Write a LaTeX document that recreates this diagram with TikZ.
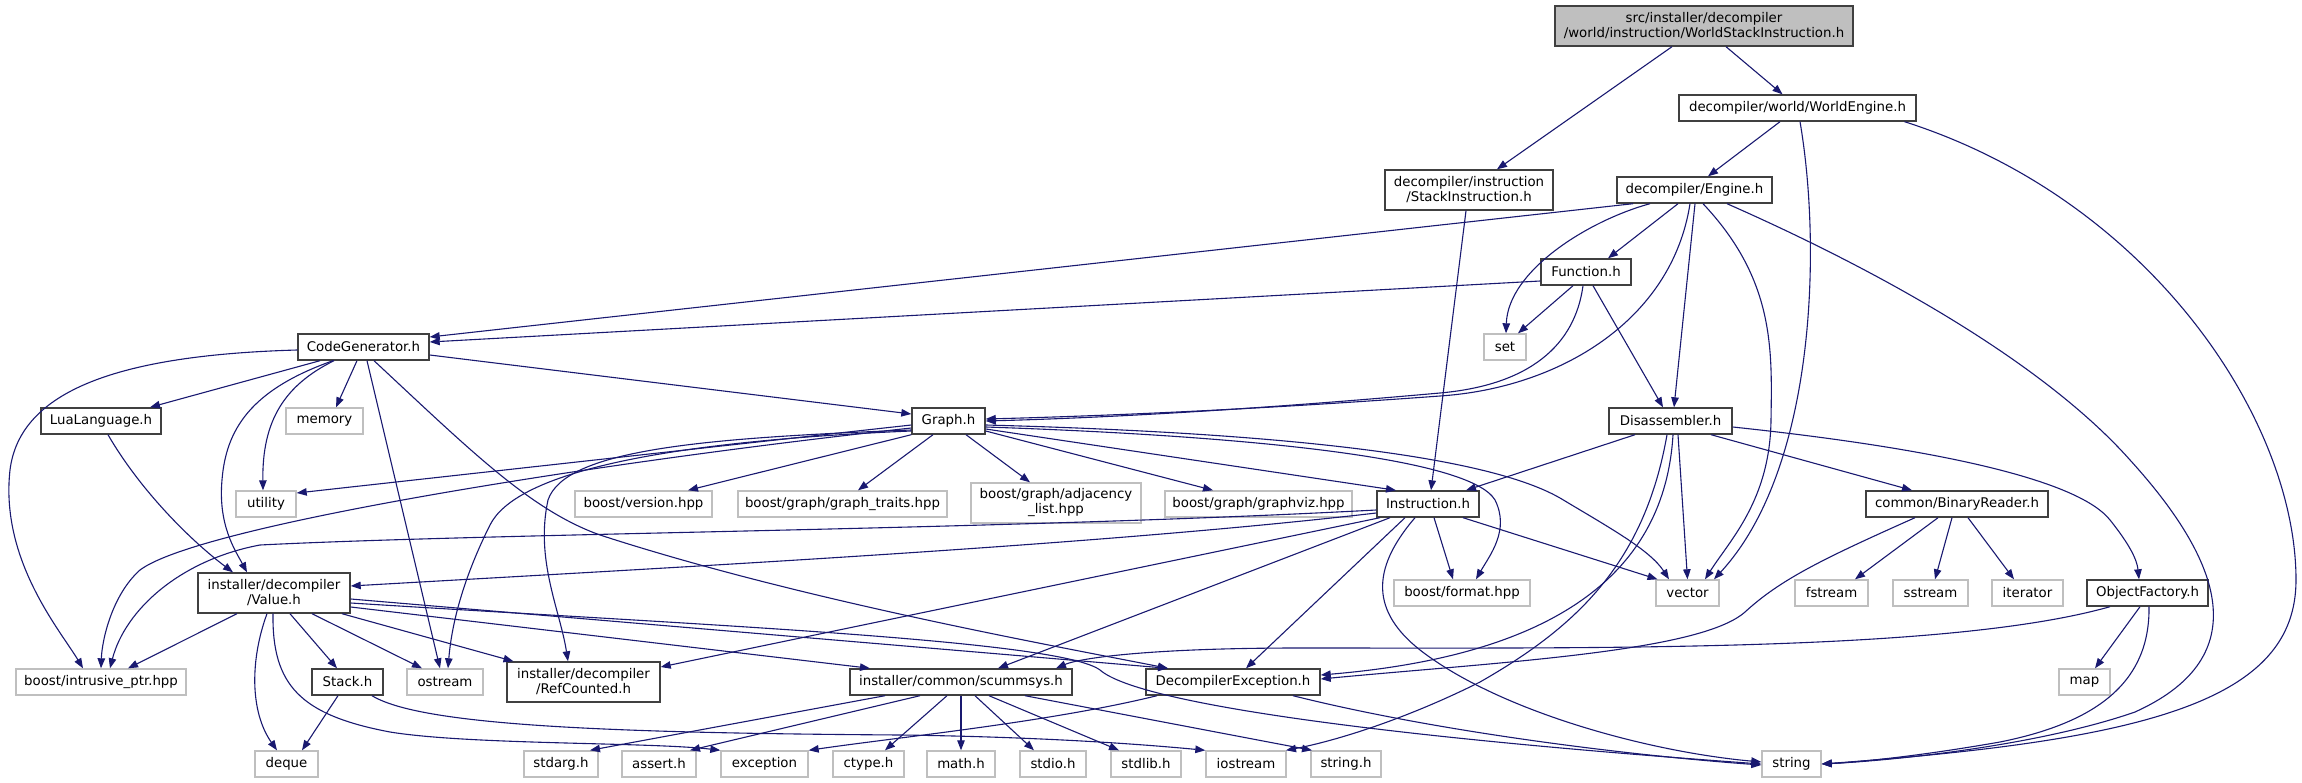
\documentclass[tikz,border=0pt]{standalone}
\usepackage{fontspec}
\setmainfont{DejaVu Sans}
\usetikzlibrary{arrows.meta}
\definecolor{edgec}{HTML}{191970}
\definecolor{docb}{HTML}{404040}
\definecolor{extb}{HTML}{BFBFBF}
\tikzset{
  nbase/.style={rectangle, inner sep=0pt, align=center, font=\fontsize{13.33}{15}\selectfont, line width=1.4pt, fill=white},
  doc/.style={nbase, draw=docb},
  ext/.style={nbase, draw=extb},
  rootn/.style={nbase, draw=docb, fill=extb},
  e/.style={draw=edgec, line width=1.1pt, -{Triangle[length=10pt,width=7.5pt]}},
}
\newcommand{\nd}[6]{\node[#1, minimum width=#4pt, minimum height=#5pt] (#2) at (#3) {#6};}
\begin{document}
\begin{tikzpicture}[x=1pt,y=-1pt]
\useasboundingbox (0,0) rectangle (2302,783);
% rank 0-4
\nd{rootn}{root}{1704,26}{298}{40}{src/installer/decompiler\\/world/instruction/WorldStackInstruction.h}
\nd{doc}{worldengine}{1797.5,108}{237}{26}{decompiler/world/WorldEngine.h}
\nd{doc}{stackinstr}{1469,190}{168}{40}{decompiler/instruction\\/StackInstruction.h}
\nd{doc}{engine}{1694.5,190}{155}{26}{decompiler/Engine.h}
\nd{doc}{function}{1586,272}{90}{26}{Function.h}
\nd{ext}{set}{1505,347}{42}{26}{set}
\nd{doc}{codegen}{363.5,347}{131}{26}{CodeGenerator.h}
% rank 5
\nd{doc}{disasm}{1670.5,421}{123}{26}{Disassembler.h}
\nd{doc}{lua}{101,421}{120}{26}{LuaLanguage.h}
\nd{ext}{memory}{324.5,421}{77}{26}{memory}
\nd{doc}{graph}{948.5,421}{73}{26}{Graph.h}
% rank 6
\nd{ext}{utility}{266,504}{60}{26}{utility}
\nd{ext}{version}{643.5,504}{137}{26}{boost/version.hpp}
\nd{ext}{traits}{842.5,504}{209}{26}{boost/graph/graph\_traits.hpp}
\nd{ext}{adjacency}{1056,503}{170}{40}{boost/graph/adjacency\\\_list.hpp}
\nd{ext}{graphviz}{1258.5,504}{187}{26}{boost/graph/graphviz.hpp}
\nd{doc}{instruction}{1428,504}{102}{26}{Instruction.h}
\nd{doc}{binreader}{1957,504}{182}{26}{common/BinaryReader.h}
% rank 7
\nd{doc}{value}{274,593}{152}{40}{installer/decompiler\\/Value.h}
\nd{ext}{format}{1462,593}{136}{26}{boost/format.hpp}
\nd{ext}{vector}{1687.5,593}{63}{26}{vector}
\nd{ext}{fstream}{1831.5,593}{73}{26}{fstream}
\nd{ext}{sstream}{1930.5,593}{75}{26}{sstream}
\nd{ext}{iterator}{2027.5,593}{71}{26}{iterator}
\nd{doc}{objfactory}{2147.5,593}{121}{26}{ObjectFactory.h}
% rank 8
\nd{ext}{intrusive}{101,682}{170}{26}{boost/intrusive\_ptr.hpp}
\nd{doc}{stack}{347.5,682}{71}{26}{Stack.h}
\nd{ext}{ostream}{445,682}{76}{26}{ostream}
\nd{doc}{refcounted}{583.5,682}{153}{40}{installer/decompiler\\/RefCounted.h}
\nd{doc}{scummsys}{961,682}{222}{26}{installer/common/scummsys.h}
\nd{doc}{decompexc}{1233,682}{174}{26}{DecompilerException.h}
\nd{ext}{map}{2084.5,682}{51}{26}{map}
% rank 9
\nd{ext}{deque}{286.5,764}{63}{26}{deque}
\nd{ext}{stdarg}{561,764}{74}{26}{stdarg.h}
\nd{ext}{assert}{659,764}{74}{26}{assert.h}
\nd{ext}{exception}{764.5,764}{87}{26}{exception}
\nd{ext}{ctype}{868.5,764}{71}{26}{ctype.h}
\nd{ext}{math}{961,764}{68}{26}{math.h}
\nd{ext}{stdio}{1053,764}{66}{26}{stdio.h}
\nd{ext}{stdlib}{1146,764}{70}{26}{stdlib.h}
\nd{ext}{iostream}{1246,764}{80}{26}{iostream}
\nd{ext}{stringh}{1346,764}{70}{26}{string.h}
\nd{ext}{string}{1791.5,764}{59}{26}{string}

% ---- edges ----
% root
\draw[e] ([xshift=-32pt]root.south) -- ([xshift=28pt]stackinstr.north);
\draw[e] ([xshift=22pt]root.south) -- ([xshift=-15pt]worldengine.north);
% WorldEngine
\draw[e] ([xshift=-17.5pt]worldengine.south) -- ([xshift=13.5pt]engine.north);
\draw[e] ([xshift=2.5pt]worldengine.south) .. controls (1822,250) and (1815,470) .. ([xshift=26.5pt]vector.north);
\draw[e] ([xshift=107pt]worldengine.south) .. controls (2150,200) and (2296,420) .. (2296,580) .. controls (2296,700) and (2150,740) .. (string.east);
% Engine
\draw[e] ([xshift=-61.5pt]engine.south) -- ([yshift=10pt]codegen.east);
\draw[e] ([xshift=-44.5pt]engine.south) .. controls (1590,220) and (1508,270) .. ([xshift=1pt]set.north);
\draw[e] ([xshift=-16.5pt]engine.south) -- ([xshift=22pt]function.north);
\draw[e] ([xshift=-4.5pt]engine.south) .. controls (1672,320) and (1560,388) .. (1440,396) .. controls (1250,410) and (1100,416) .. ([yshift=2pt]graph.east);
\draw[e] ([xshift=0.5pt]engine.south) -- ([xshift=3.5pt]disasm.north);
\draw[e] ([xshift=8.5pt]engine.south) .. controls (1775,280) and (1772,350) .. (1771,420) .. controls (1770,500) and (1730,540) .. ([xshift=17.5pt]vector.north);
\draw[e] ([xshift=32.5pt]engine.south) .. controls (1900,280) and (2050,370) .. (2130,460) .. controls (2230,570) and (2250,660) .. (2135,712) .. controls (2040,745) and (1900,760) .. (string.east);
% Function
\draw[e] ([yshift=-9pt]function.west) -- ([yshift=5pt]codegen.east);
\draw[e] ([xshift=-13pt]function.south) -- ([xshift=13pt]set.north);
\draw[e] ([xshift=-3pt]function.south) .. controls (1575,345) and (1530,385) .. (1440,393) .. controls (1250,410) and (1100,418) .. (graph.east);
\draw[e] ([xshift=7pt]function.south) -- ([xshift=-7.5pt]disasm.north);
% CodeGenerator
\draw[e] ([yshift=-3pt]codegen.west) .. controls (120,355) and (20,390) .. (10,470) .. controls (0,560) and (60,630) .. ([xshift=-18pt]intrusive.north);
\draw[e] ([xshift=-43.5pt]codegen.south) -- ([xshift=49pt]lua.north);
\draw[e] ([xshift=-30.5pt]codegen.south) .. controls (250,390) and (226,430) .. (222,480) .. controls (218,525) and (235,550) .. ([xshift=-27pt]value.north);
\draw[e] ([xshift=-29.5pt]codegen.south) .. controls (285,385) and (262,420) .. ([xshift=-3pt]utility.north);
\draw[e] ([xshift=-6.5pt]codegen.south) -- ([xshift=11.5pt]memory.north);
\draw[e] ([xshift=3.5pt]codegen.south) -- ([xshift=-5pt]ostream.north);
\draw[e] ([xshift=10.5pt]codegen.south) .. controls (470,450) and (530,510) .. (600,535) .. controls (800,600) and (1050,645) .. ([xshift=-65pt]decompexc.north);
\draw[e] ([yshift=-8pt]codegen.east) -- ([yshift=7pt]graph.west);
% Graph
\draw[e] ([yshift=-4pt]graph.west) -- ([yshift=11pt]utility.east);
\draw[e] ([yshift=-7pt]graph.west) .. controls (600,462) and (200,525) .. (140,570) .. controls (112,595) and (102,640) .. (intrusive.north);
\draw[e] ([yshift=-9pt]graph.west) .. controls (700,438) and (565,450) .. (548,500) .. controls (535,560) and (560,610) .. ([xshift=-15.5pt]refcounted.north);
\draw[e] ([yshift=-10pt]graph.west) .. controls (650,442) and (515,475) .. (490,525) .. controls (465,575) and (452,620) .. ([xshift=3pt]ostream.north);
\draw[e] (graph.south west) -- ([xshift=44.5pt]version.north);
\draw[e] ([xshift=-15.5pt]graph.south) -- ([xshift=15.5pt]traits.north);
\draw[e] ([xshift=17.5pt]graph.south) -- ([xshift=-26pt]adjacency.north);
\draw[e] ([yshift=-10pt]graph.east) -- ([xshift=-45.5pt]graphviz.north);
\draw[e] ([yshift=-8pt]graph.east) -- ([xshift=-32pt]instruction.north);
\draw[e] ([yshift=-4pt]graph.east) .. controls (1250,432) and (1480,452) .. (1560,498) .. controls (1610,528) and (1650,550) .. ([xshift=-18.5pt]vector.north);
\draw[e] ([yshift=-6pt]graph.east) .. controls (1250,436) and (1470,458) .. (1495,500) .. controls (1510,530) and (1490,555) .. ([xshift=14pt]format.north);
% Instruction
\draw[e] ([yshift=-9pt]instruction.west) .. controls (1100,545) and (700,566) .. ([yshift=7pt]value.east);
\draw[e] ([yshift=-6pt]instruction.west) .. controls (1000,530) and (500,533) .. (260,545) .. controls (180,560) and (125,610) .. ([xshift=9pt]intrusive.north);
\draw[e] ([xshift=-48pt]instruction.south) -- ([yshift=15pt]refcounted.east);
\draw[e] ([xshift=-38pt]instruction.south) -- ([xshift=37pt]scummsys.north);
\draw[e] ([xshift=-23pt]instruction.south) -- ([xshift=13pt]decompexc.north);
\draw[e] ([xshift=6pt]instruction.south) -- ([xshift=-9pt]format.north);
\draw[e] ([xshift=35pt]instruction.south) -- ([xshift=-30pt]vector.north);
\draw[e] ([xshift=-13pt]instruction.south) .. controls (1370,570) and (1372,612) .. (1420,650) .. controls (1500,712) and (1650,752) .. ([yshift=2pt]string.west);
% StackInstruction
\draw[e] ([xshift=-3pt]stackinstr.south) -- ([xshift=3pt]instruction.north);
% Disassembler
\draw[e] ([xshift=-35.5pt]disasm.south) -- ([xshift=38pt]instruction.north);
\draw[e] ([xshift=-3.5pt]disasm.south) .. controls (1645,560) and (1580,625) .. (1480,682) .. controls (1400,722) and (1330,742) .. ([xshift=40pt]iostream.north);
\draw[e] ([xshift=2.5pt]disasm.south) .. controls (1665,570) and (1560,655) .. ([yshift=7pt]decompexc.east);
\draw[e] ([xshift=7.5pt]disasm.south) -- (vector.north);
\draw[e] ([xshift=40.5pt]disasm.south) -- ([xshift=-45pt]binreader.north);
\draw[e] ([yshift=-6pt]disasm.east) .. controls (1950,450) and (2080,482) .. (2110,520) .. controls (2130,545) and (2137,560) .. ([xshift=-8.5pt]objfactory.north);
% BinaryReader
\draw[e] ([xshift=-19pt]binreader.south) -- ([xshift=23.5pt]fstream.north);
\draw[e] ([xshift=-5pt]binreader.south) -- ([xshift=4.5pt]sstream.north);
\draw[e] ([xshift=11pt]binreader.south) -- ([xshift=-13.5pt]iterator.north);
\draw[e] ([xshift=-42pt]binreader.south) .. controls (1820,560) and (1780,580) .. (1745,612) .. controls (1700,652) and (1500,662) .. ([yshift=3pt]decompexc.east);
% ObjectFactory
\draw[e] ([xshift=-7.5pt]objfactory.south) -- ([xshift=10.5pt]map.north);
\draw[e] ([xshift=-37.5pt]objfactory.south) .. controls (1950,652) and (1600,648) .. (1300,648) .. controls (1150,648) and (1080,658) .. ([xshift=95pt]scummsys.north);
\draw[e] ([xshift=1.5pt]objfactory.south) .. controls (2150,680) and (2100,722) .. (2000,742) .. controls (1920,756) and (1860,762) .. (string.east);
% Value
\draw[e] ([xshift=-37pt]value.south) -- ([xshift=27pt]intrusive.north);
\draw[e] ([xshift=-7pt]value.south) .. controls (250,660) and (250,712) .. ([xshift=-9.5pt]deque.north);
\draw[e] ([xshift=-1pt]value.south) .. controls (272,685) and (300,715) .. (390,732) .. controls (470,745) and (650,742) .. (exception.north west);
\draw[e] ([xshift=16pt]value.south) -- ([xshift=-10.5pt]stack.north);
\draw[e] ([xshift=38pt]value.south) -- ([xshift=-23pt]ostream.north);
\draw[e] ([xshift=68pt]value.south) -- ([xshift=-70pt]refcounted.north);
\draw[e] ([yshift=-6pt]value.east) -- ([xshift=-65pt]decompexc.north);
\draw[e] ([yshift=-10pt]value.east) .. controls (700,625) and (1060,640) .. (1100,670) .. controls (1140,705) and (1400,738) .. (string.west);
\draw[e] ([yshift=-14pt]value.east) -- ([xshift=-91pt]scummsys.north);
% Stack
\draw[e] ([xshift=-9.5pt]stack.south) -- ([xshift=15.5pt]deque.north);
\draw[e] ([xshift=24.5pt]stack.south) .. controls (420,725) and (600,733) .. (900,735) .. controls (1050,737) and (1150,745) .. (iostream.north west);
% LuaLanguage
\draw[e] ([xshift=7pt]lua.south) .. controls (140,490) and (190,540) .. ([xshift=-41pt]value.north);
% scummsys
\draw[e] ([xshift=-76pt]scummsys.south) -- ([xshift=29pt]stdarg.north);
\draw[e] ([xshift=-41pt]scummsys.south) -- ([xshift=31pt]assert.north);
\draw[e] ([xshift=-14pt]scummsys.south) -- ([xshift=16.5pt]ctype.north);
\draw[e] (scummsys.south) -- (math.north);
\draw[e] ([xshift=14pt]scummsys.south) -- ([xshift=-19pt]stdio.north);
\draw[e] ([xshift=28pt]scummsys.south) -- ([xshift=-27pt]stdlib.north);
\draw[e] ([xshift=64pt]scummsys.south) -- ([xshift=-34pt]stringh.north);
% DecompilerException
\draw[e] ([xshift=-76pt]decompexc.south) .. controls (1050,722) and (900,737) .. (exception.north east);
\draw[e] ([xshift=60pt]decompexc.south) .. controls (1450,735) and (1650,757) .. ([yshift=-1pt]string.west);
\end{tikzpicture}
\end{document}
